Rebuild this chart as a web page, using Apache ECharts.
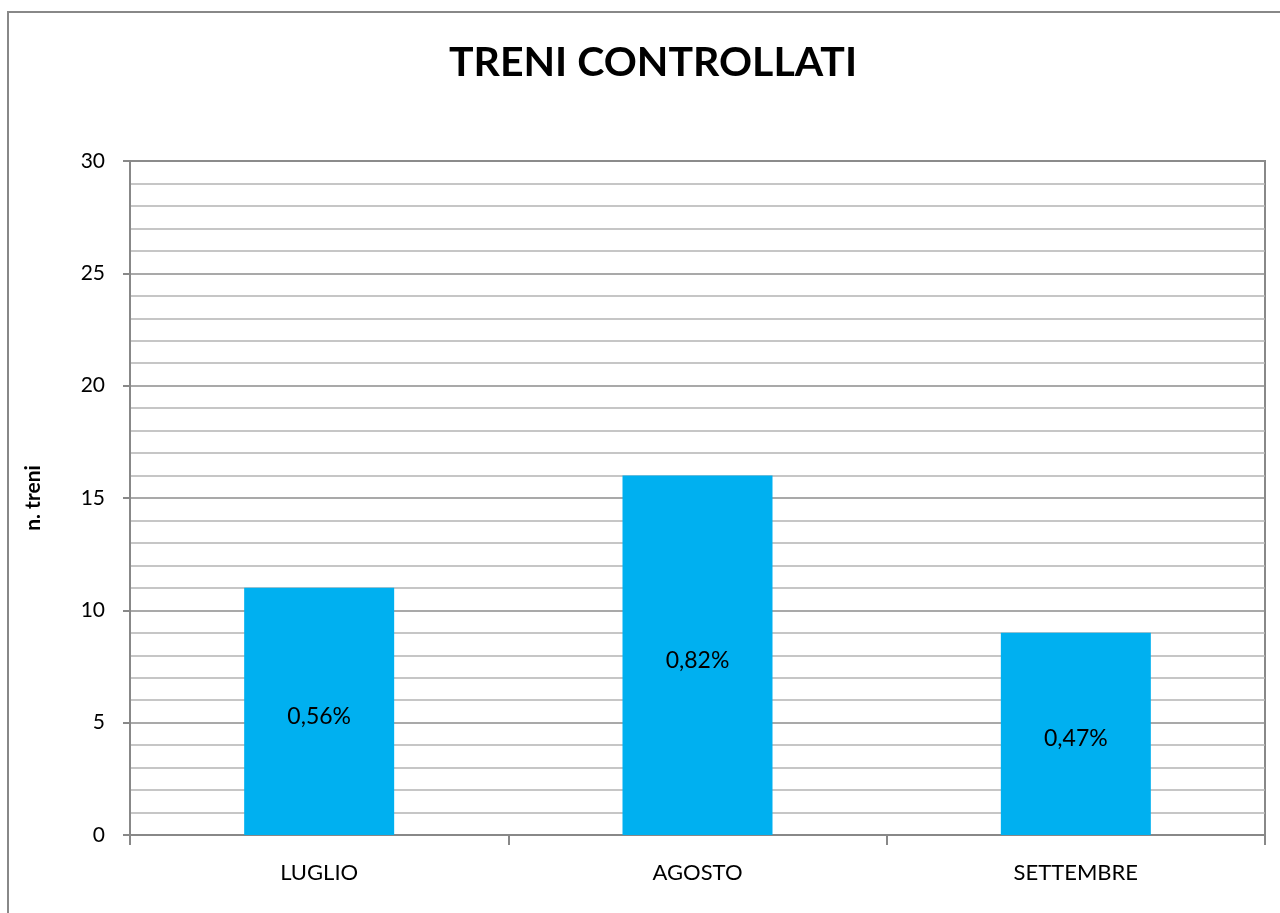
<!DOCTYPE html>
<html lang="it">
<head>
    <meta charset="UTF-8">
    <title>Treni controllati</title>
    <script src="https://cdn.jsdelivr.net/npm/echarts@6/dist/echarts.min.js"></script>
</head>
<style>
    html, body { margin: 0; padding: 0; background: #fff; }
    #main { width: 1280px; height: 913px; }
</style>
<body>
<div id="main"></div>
<script>
    // dati
    var mesi = ['LUGLIO', 'AGOSTO', 'SETTEMBRE'];
    var treni = [11, 16, 9];
    var percentuali = ['0,56%', '0,82%', '0,47%'];
    var yTicks = [0, 5, 10, 15, 20, 25, 30];

    var font = 'Lato, "Open Sans", sans-serif';

    var myChart = echarts.init(document.getElementById('main'));
    var option = {
        backgroundColor: '#fff',
        animation: false,
        title: {
            text: 'TRENI CONTROLLATI',
            left: 648,
            textAlign: 'center',
            top: 37,
            textStyle: { fontFamily: font, fontSize: 41, fontWeight: 'bold', color: '#000' }
        },
        graphic: [{
            type: 'rect',
            shape: { x: 8, y: 12, width: 1300, height: 1000 },
            style: { fill: 'none', stroke: '#888', lineWidth: 2 },
            silent: true
        }],
        grid: {
            left: 130, right: 15, top: 161, bottom: 78,
            show: true, borderColor: '#888', borderWidth: 2
        },
        xAxis: {
            type: 'category',
            data: mesi,
            axisLine: { lineStyle: { color: '#888', width: 2 } },
            axisTick: { show: true, length: 10, lineStyle: { color: '#888', width: 2 } },
            axisLabel: { margin: 27, fontFamily: font, fontSize: 22, color: '#000' }
        },
        yAxis: {
            type: 'value',
            min: yTicks[0],
            max: yTicks[yTicks.length - 1],
            interval: 5,
            name: 'n. treni',
            nameLocation: 'middle',
            nameGap: 86,
            nameRotate: 90,
            nameTextStyle: { fontFamily: font, fontSize: 21, fontWeight: 'bold', color: '#000' },
            axisLine: { show: true, lineStyle: { color: '#888', width: 2 } },
            axisTick: { show: true, length: 7, lineStyle: { color: '#888', width: 2 } },
            axisLabel: { margin: 25, fontFamily: font, fontSize: 21, color: '#000' },
            splitLine: { show: true, lineStyle: { color: '#8c8c8c', width: 1.5 } },
            minorTick: { show: false, splitNumber: 5 },
            minorSplitLine: { show: true, lineStyle: { color: '#b4b4b4', width: 1.5 } }
        },
        series: [{
            type: 'bar',
            data: treni,
            barWidth: 150,
            itemStyle: { color: '#00B0F0' },
            label: {
                show: true,
                position: 'inside',
                offset: [0, 5],
                fontFamily: font,
                fontSize: 23,
                color: '#000',
                formatter: function (p) { return percentuali[p.dataIndex]; }
            }
        }]
    };
    myChart.setOption(option);
</script>
</body>
</html>
